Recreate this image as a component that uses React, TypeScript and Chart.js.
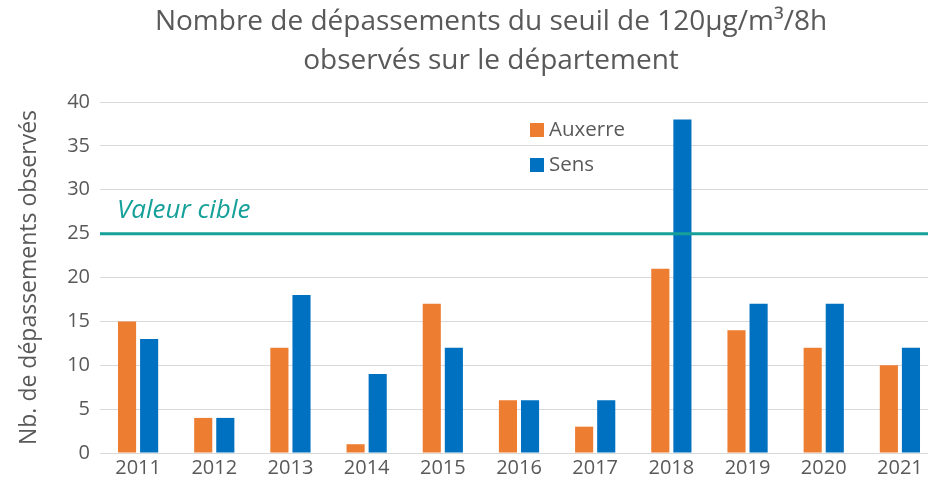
import React, { useEffect, useRef } from "react";
import { Chart, registerables } from "chart.js";

Chart.register(...registerables);

const years = ["2011", "2012", "2013", "2014", "2015", "2016", "2017", "2018", "2019", "2020", "2021"];
const auxerre = [15, 4, 12, 1, 17, 6, 3, 21, 14, 12, 10];
const sens = [13, 4, 18, 9, 12, 6, 6, 38, 17, 17, 12];
const targetValue = 25;
const targetLabel = "Valeur cible";
const titleLines = ["Nombre de dépassements du seuil de 120µg/m³/8h", "observés sur le département"];
const yTitle = "Nb. de dépassements observés";

const FONT = "'Open Sans', sans-serif";
const GREY = "#595959";
const TEAL = "#16A09A";

const overlay = {
  id: "overlay",
  afterDatasetsDraw(chart: any) {
    const { ctx, chartArea, scales } = chart;
    const y = scales.y.getPixelForValue(targetValue);
    ctx.save();
    ctx.strokeStyle = TEAL;
    ctx.lineWidth = 3;
    ctx.beginPath();
    ctx.moveTo(chartArea.left, y);
    ctx.lineTo(chartArea.right, y);
    ctx.stroke();
    ctx.fillStyle = TEAL;
    ctx.font = `italic 26px ${FONT}`;
    ctx.textAlign = "left";
    ctx.textBaseline = "alphabetic";
    ctx.fillText(targetLabel, chartArea.left + 17, y - 16);
    ctx.fillStyle = GREY;
    ctx.font = `28px ${FONT}`;
    ctx.textAlign = "center";
    ctx.textBaseline = "middle";
    ctx.fillText(titleLines[0], 491, 22);
    ctx.fillText(titleLines[1], 491, 61);
    ctx.font = `20.5px ${FONT}`;
    ctx.textAlign = "left";
    chart.data.datasets.forEach((ds: any, i: number) => {
      const ly = 130 + i * 35;
      ctx.fillStyle = ds.backgroundColor;
      ctx.fillRect(530, ly - 7, 14, 14);
      ctx.fillStyle = GREY;
      ctx.fillText(ds.label, 549, ly);
    });
    ctx.restore();
  },
};

export default function App() {
  const ref = useRef<HTMLCanvasElement>(null);
  useEffect(() => {
    const chart = new Chart(ref.current!, {
      type: "bar",
      data: {
        labels: years,
        datasets: [
          { label: "Auxerre", data: auxerre, backgroundColor: "#ED7D31", barPercentage: 0.82, categoryPercentage: 0.58 },
          { label: "Sens", data: sens, backgroundColor: "#0070C0", barPercentage: 0.82, categoryPercentage: 0.58 },
        ],
      },
      options: {
        responsive: false,
        animation: false,
        layout: { padding: { top: 102, bottom: 10, left: 0, right: 0 } },
        plugins: { legend: { display: false }, title: { display: false }, tooltip: { enabled: false } },
        scales: {
          x: {
            grid: { display: false, drawTicks: false },
            border: { color: "#D9D9D9", width: 1 },
            ticks: { color: GREY, font: { family: FONT, size: 20 }, padding: 3 },
          },
          y: {
            min: 0,
            max: 40,
            afterFit(scale: any) { scale.width = 100; },
            ticks: { stepSize: 5, color: GREY, font: { family: FONT, size: 20 }, padding: 10 },
            grid: { color: "#D9D9D9", drawTicks: false },
            border: { display: false },
            title: { display: true, text: yTitle, color: GREY, font: { family: FONT, size: 23 }, padding: { top: 16, bottom: 0 } },
          },
        },
      },
      plugins: [overlay],
    });
    return () => chart.destroy();
  }, []);
  return (
    <div style={{ position: "fixed", left: 0, top: 0, width: 928, height: 493, overflow: "hidden", background: "#fff" }}>
      <canvas ref={ref} width={938} height={493} style={{ display: "block" }} />
    </div>
  );
}
